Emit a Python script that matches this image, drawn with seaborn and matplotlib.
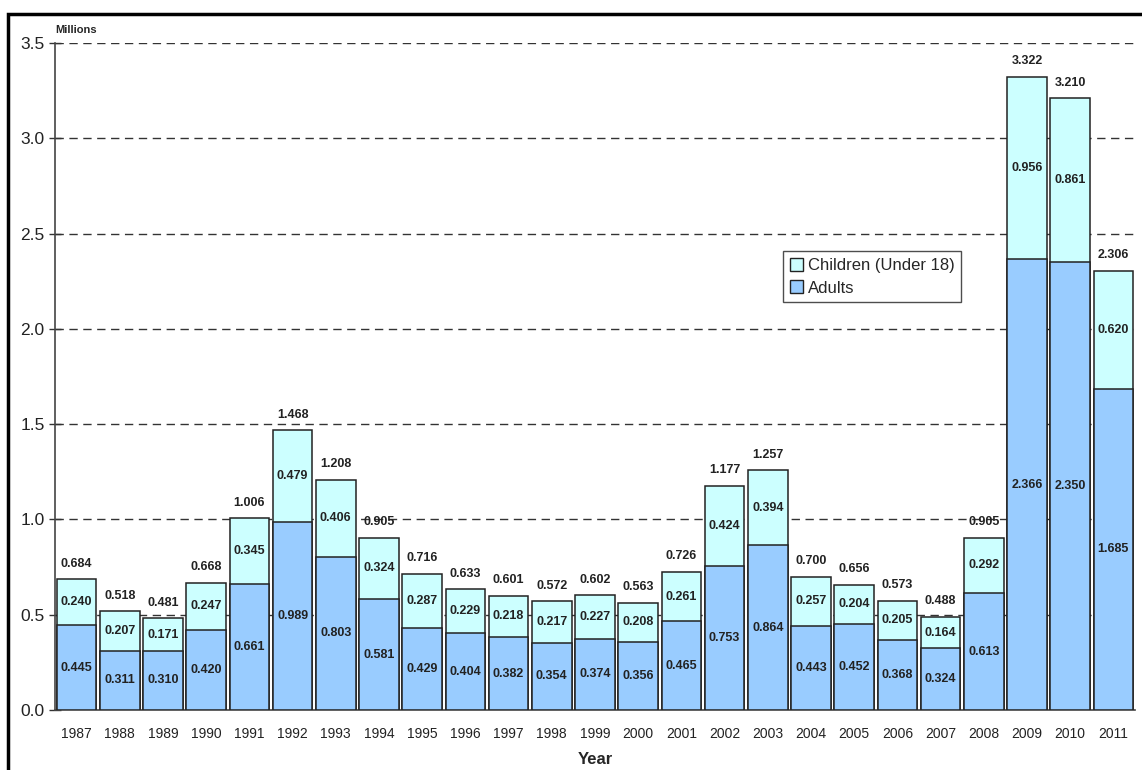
import matplotlib
matplotlib.use('Agg')
import matplotlib.pyplot as plt
from matplotlib.patches import Rectangle, Patch
import pandas as pd
import seaborn as sns

years = [str(y) for y in range(1987, 2012)]
adults = [0.445, 0.311, 0.310, 0.420, 0.661, 0.989, 0.803, 0.581, 0.429, 0.404,
          0.382, 0.354, 0.374, 0.356, 0.465, 0.753, 0.864, 0.443, 0.452, 0.368,
          0.324, 0.613, 2.366, 2.350, 1.685]
children = [0.240, 0.207, 0.171, 0.247, 0.345, 0.479, 0.406, 0.324, 0.287, 0.229,
            0.218, 0.217, 0.227, 0.208, 0.261, 0.424, 0.394, 0.257, 0.204, 0.205,
            0.164, 0.292, 0.956, 0.861, 0.620]
totals = [0.684, 0.518, 0.481, 0.668, 1.006, 1.468, 1.208, 0.905, 0.716, 0.633,
          0.601, 0.572, 0.602, 0.563, 0.726, 1.177, 1.257, 0.700, 0.656, 0.573,
          0.488, 0.905, 3.322, 3.210, 2.306]

df = pd.DataFrame({'year': years, 'adults': adults, 'children': children, 'total': totals})
df['top'] = df['adults'] + df['children']

sns.set_style('white')
plt.rcParams['font.family'] = ['Liberation Sans', 'DejaVu Sans']

adult_col = '#99CCFF'
child_col = '#CCFFFF'
edge = '#222222'

fig = plt.figure(figsize=(11.42, 7.7), dpi=100)
ax = fig.add_axes([55 / 1142, 60 / 770, 1080 / 1142, 667 / 770])

sns.barplot(data=df, x='year', y='top', color=child_col, width=0.92, edgecolor=edge,
            linewidth=1.1, saturation=1, ax=ax, zorder=2)
sns.barplot(data=df, x='year', y='adults', color=adult_col, width=0.92, edgecolor=edge,
            linewidth=1.1, saturation=1, ax=ax, zorder=3)

lab = dict(fontsize=9, fontweight='bold', color='#222222', zorder=5, ha='center')
for i, row in df.iterrows():
    ax.text(i, row['top'] + 0.05, f"{row['total']:.3f}", va='bottom', **lab)
    ax.text(i, row['adults'] + row['children'] / 2, f"{row['children']:.3f}",
            va='center', **lab)
    ax.text(i, row['adults'] / 2, f"{row['adults']:.3f}", va='center', **lab)

ax.set_ylim(0, 3.5)
ax.set_xlim(-0.5, len(years) - 0.5)
ax.set_yticks([0, 0.5, 1.0, 1.5, 2.0, 2.5, 3.0, 3.5])
ax.set_yticklabels(['0.0', '0.5', '1.0', '1.5', '2.0', '2.5', '3.0', '3.5'])
for y in [0.5, 1.0, 1.5, 2.0, 2.5, 3.0, 3.5]:
    ax.axhline(y, color='#333333', lw=1, ls=(0, (6, 4)), zorder=1)

ax.tick_params(axis='y', direction='inout', length=8, width=1, labelsize=12.5,
               colors='#333333', labelcolor='#222222', left=True)
ax.tick_params(axis='x', length=0, labelsize=10, labelcolor='#222222', pad=12)
ax.set_xlabel('Year', fontsize=12, fontweight='bold', labelpad=8)
ax.set_ylabel('')
for s in ['top', 'right']:
    ax.spines[s].set_visible(False)
for s in ['left', 'bottom']:
    ax.spines[s].set_color('#444444')
    ax.spines[s].set_linewidth(1.2)

ax.text(0.0, 1.012, 'Millions', transform=ax.transAxes, fontsize=8,
        fontweight='bold', ha='left', va='bottom')

handles = [Patch(facecolor=child_col, edgecolor=edge, label='Children (Under 18)'),
           Patch(facecolor=adult_col, edgecolor=edge, label='Adults')]
leg = ax.legend(handles=handles, loc='upper left', bbox_to_anchor=(0.674, 0.688),
                fontsize=12, frameon=True, fancybox=False, handlelength=0.8,
                handleheight=0.8, handletextpad=0.3, borderpad=0.4, labelspacing=0.45,
                borderaxespad=0)
leg.get_frame().set_edgecolor('#222222')
leg.get_frame().set_linewidth(1)

fig.patches.append(Rectangle((8 / 1142, -0.05), 1.2, 1 - 14 / 770 + 0.05,
                             transform=fig.transFigure, fill=False,
                             edgecolor='black', lw=2.5, zorder=0))

fig.savefig('out.png', dpi=100)
